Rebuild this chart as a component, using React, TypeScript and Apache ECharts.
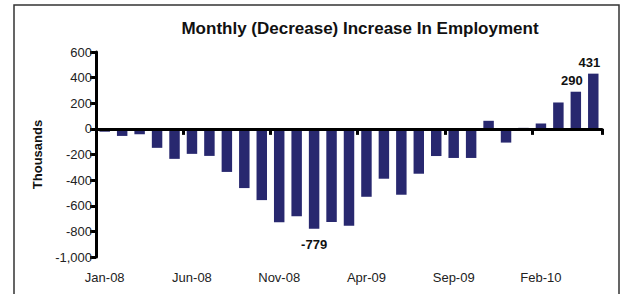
import React, { useEffect, useRef } from "react";
import * as echarts from "echarts";

const categories = [
  "Jan-08", "Feb-08", "Mar-08", "Apr-08", "May-08", "Jun-08", "Jul-08", "Aug-08", "Sep-08", "Oct-08", "Nov-08", "Dec-08",
  "Jan-09", "Feb-09", "Mar-09", "Apr-09", "May-09", "Jun-09", "Jul-09", "Aug-09", "Sep-09", "Oct-09", "Nov-09", "Dec-09",
  "Jan-10", "Feb-10", "Mar-10", "Apr-10", "May-10",
];

const changes = [
  -22, -55, -42, -148, -234, -195, -211, -336, -462, -556, -728, -681,
  -779, -726, -757, -530, -389, -514, -350, -212, -227, -227, 63, -107,
  8, 42, 206, 290, 431,
];

const labelledMonths = ["Jan-09", "Apr-10", "May-10"];

const yTicks = { min: -1000, max: 600, interval: 200 };

const title = "Monthly (Decrease) Increase In Employment";
const yName = "Thousands";

const FONT = "'Liberation Sans', Arial, sans-serif";
const BAR = "#28286f";

export default function App() {
  const ref = useRef<HTMLDivElement>(null);

  useEffect(() => {
    if (!ref.current) return;
    const chart = echarts.init(ref.current, null, { renderer: "svg" });

    const data = changes.map((v, i) => {
      const cat = categories[i];
      if (!labelledMonths.includes(cat)) return v;
      const neg = v < 0;
      return {
        value: v,
        label: {
          show: true,
          position: neg ? "bottom" : "top",
          distance: neg ? 9 : 5,
          offset: neg ? [0, 0] : [-4, 0],
          fontFamily: FONT,
          fontWeight: "bold",
          fontSize: 13,
          color: "#111",
        },
      };
    });

    chart.setOption({
      animation: false,
      backgroundColor: "#ffffff",
      title: {
        text: title,
        left: 355,
        top: 15,
        textAlign: "center",
        textStyle: { fontFamily: FONT, fontWeight: "bold", fontSize: 17, color: "#111" },
      },
      graphic: [
        {
          type: "rect",
          shape: { x: 14, y: 5, width: 605, height: 310 },
          style: { fill: "none", stroke: "#333", lineWidth: 1.5 },
          silent: true,
        },
      ],
      grid: { left: 96, right: 22, top: 52, bottom: 37, containLabel: false },
      xAxis: [
        {
          type: "category",
          data: categories,
          position: "bottom",
          axisLine: { show: false, onZero: false },
          axisTick: { show: false },
          axisLabel: {
            interval: 4,
            margin: 14,
            fontFamily: FONT,
            fontSize: 13,
            color: "#222",
          },
        },
        {
          type: "category",
          data: categories,
          position: "bottom",
          z: 5,
          axisLine: { show: true, onZero: true, lineStyle: { color: "#000", width: 3 } },
          axisTick: { show: true, interval: 4, length: 6, lineStyle: { color: "#000", width: 3 } },
          axisLabel: { show: false },
        },
      ],
      yAxis: {
        type: "value",
        min: yTicks.min,
        max: yTicks.max,
        interval: yTicks.interval,
        name: yName,
        nameLocation: "middle",
        nameGap: 52,
        nameTextStyle: { fontFamily: FONT, fontWeight: "bold", fontSize: 13, color: "#111" },
        splitLine: { show: false },
        axisLine: { show: true, onZero: false, lineStyle: { color: "#000", width: 3 } },
        axisTick: { show: true, length: 6, lineStyle: { color: "#000", width: 3 } },
        axisLabel: {
          margin: 4,
          fontFamily: FONT,
          fontSize: 13,
          color: "#222",
          formatter: (v: number) => v.toLocaleString("en-US"),
        },
      },
      series: [
        {
          type: "bar",
          xAxisIndex: 0,
          data,
          barCategoryGap: "40%",
          itemStyle: { color: BAR },
        },
      ],
    });

    return () => chart.dispose();
  }, []);

  return (
    <div
      ref={ref}
      style={{ position: "fixed", left: 0, top: 0, width: 624, height: 294, background: "#fff" }}
    />
  );
}
